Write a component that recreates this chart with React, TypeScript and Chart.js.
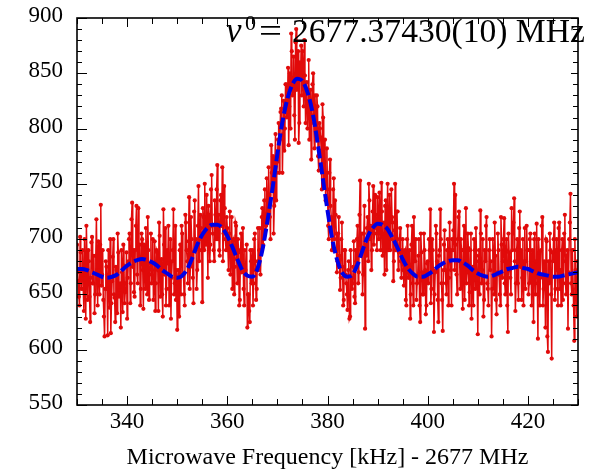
import React, { useEffect, useRef } from "react";
import { Chart, registerables } from "chart.js";

Chart.register(...registerables);

// Frequency grid (kHz above 2677 MHz)
const FREQ_START = 330;
const DATA_STEP = 0.25;
const MID_OFFSET = 0.125;
const FIT_STEP = 1;

const counts: number[] = [
  // 330
  695, 662, 640, 688, 671, 655, 700, 628, 679, 690, 648, 665, 702, 660, 633, 685, 672, 698, 650, 731,
  // 335
  668, 645, 612, 680, 655, 690, 638, 615, 662, 700, 647, 675, 633, 688, 654, 620, 670, 695, 642, 660,
  // 340
  628, 680, 705, 660, 733, 690, 648, 712, 668, 728, 695, 655, 700, 637, 685, 710, 650, 690, 668, 705,
  // 345
  672, 645, 698, 660, 688, 635, 703, 675, 650, 727, 668, 640, 690, 712, 655, 628, 680, 727, 660, 645,
  // 350
  618, 672, 690, 650, 705, 668, 640, 715, 680, 698, 655, 720, 688, 642, 735, 700, 672, 748, 690, 710,
  // 355
  643, 720, 750, 695, 708, 730, 680, 745, 712, 690, 735, 700, 767, 722, 685, 740, 765, 705, 728, 690,
  // 360
  710, 672, 725, 688, 655, 700, 675, 712, 660, 690, 645, 705, 678, 655, 690, 668, 620, 650, 625, 680,
  // 365
  690, 660, 705, 645, 680, 672, 710, 690, 728, 700, 745, 712, 735, 765, 720, 785, 750, 705, 770, 735,
  // 370
  770, 805, 790, 818, 760, 825, 800, 840, 815, 785, 850, 886, 830, 865, 790, 890, 845, 787, 860, 875,
  // 375
  870, 820, 848, 835, 800, 862, 815, 772, 840, 805, 830, 790, 820, 762, 800, 780, 822, 750, 790, 760,
  // 380
  745, 700, 772, 720, 690, 755, 735, 705, 680, 720, 654, 700, 675, 645, 690, 660, 636, 680, 630, 665,
  // 385
  660, 698, 642, 680, 712, 670, 753, 690, 650, 705, 619, 685, 720, 750, 700, 672, 725, 695, 740, 710,
  // 390
  738, 700, 720, 751, 685, 715, 730, 672, 750, 705, 690, 745, 715, 680, 750, 700, 725, 688, 710, 665,
  // 395
  700, 658, 690, 640, 712, 675, 628, 695, 660, 720, 680, 645, 667, 700, 625, 688, 650, 705, 672, 640,
  // 400
  680, 700, 727, 655, 690, 616, 670, 705, 645, 685, 727, 660, 617, 695, 672, 650, 700, 665, 690, 640,
  // 405
  690, 750, 740, 668, 700, 725, 655, 690, 637, 712, 680, 660, 705, 640, 690, 628, 675, 700, 655, 685,
  // 410
  614, 690, 726, 660, 700, 645, 680, 720, 655, 690, 672, 612, 700, 650, 685, 632, 705, 668, 640, 695,
  // 415
  680, 719, 650, 700, 616, 688, 665, 728, 705, 737, 635, 690, 660, 710, 675, 645, 700, 680, 655, 712,
  // 420
  690, 660, 705, 640, 678, 700, 650, 714, 610, 688, 665, 712, 640, 680, 620, 698, 598, 660, 690, 592,
  // 425
  680, 715, 655, 700, 640, 715, 672, 690, 645, 705, 660, 685, 619, 700, 741, 650, 690, 608, 672, 630,
  // 430
  656,
];

// Measured counts (red) at the in-between frequencies, 330.125 to 429.875 kHz
const countsMid: number[] = [
  // 330.125
  670, 648, 702, 655, 690, 635, 668, 712, 645, 680, 625, 697, 660, 685, 650, 718, 640, 672, 695, 658,
  // 335.125
  690, 630, 655, 675, 613, 668, 700, 642, 684, 650, 625, 672, 705, 648, 660, 690, 634, 676, 652, 688,
  // 340.125
  665, 700, 642, 718, 675, 652, 690, 730, 660, 684, 640, 705, 672, 695, 655, 688, 720, 645, 678, 660,
  // 345.125
  700, 660, 635, 690, 672, 715, 648, 682, 630, 695, 710, 655, 678, 640, 700, 665, 690, 650, 712, 672,
  // 350.125
  660, 630, 695, 712, 668, 650, 722, 690, 660, 738, 675, 700, 665, 725, 690, 655, 712, 680, 722, 700,
  // 355.125
  728, 690, 700, 740, 665, 722, 695, 758, 705, 680, 722, 745, 700, 690, 735, 712, 680, 748, 700, 720,
  // 360.125
  690, 705, 668, 720, 698, 650, 715, 682, 700, 640, 688, 670, 710, 640, 672, 695, 650, 635, 690, 660,
  // 365.125
  640, 700, 672, 655, 710, 690, 668, 720, 695, 735, 708, 755, 725, 740, 700, 760, 775, 730, 795, 760,
  // 370.125
  790, 760, 815, 830, 795, 780, 840, 810, 855, 820, 800, 870, 840, 812, 878, 835, 870, 805, 848, 830,
  // 375.125
  850, 880, 805, 842, 825, 790, 835, 812, 850, 782, 810, 830, 775, 805, 792, 745, 810, 770, 735, 782,
  // 380.125
  712, 760, 730, 690, 745, 700, 722, 670, 705, 685, 665, 715, 640, 690, 668, 650, 672, 628, 690, 655,
  // 385.125
  675, 648, 690, 700, 660, 722, 685, 705, 668, 730, 695, 710, 680, 735, 712, 690, 748, 705, 722, 690,
  // 390.125
  715, 742, 690, 725, 705, 668, 735, 712, 690, 740, 700, 720, 662, 708, 690, 725, 672, 700, 680, 690,
  // 395.125
  672, 688, 645, 700, 665, 690, 650, 712, 640, 680, 700, 660, 685, 640, 705, 670, 650, 690, 632, 678,
  // 400.125
  660, 690, 642, 700, 672, 650, 712, 680, 625, 690, 700, 645, 672, 708, 660, 690, 640, 715, 672, 700,
  // 405.125
  708, 672, 695, 650, 720, 680, 700, 660, 690, 645, 728, 670, 692, 652, 705, 672, 640, 690, 710, 660,
  // 410.125
  680, 650, 705, 672, 630, 690, 712, 660, 640, 700, 680, 655, 690, 715, 645, 670, 690, 650, 720, 665,
  // 415.125
  700, 660, 690, 640, 705, 672, 650, 690, 715, 680, 660, 700, 645, 725, 690, 665, 640, 710, 680, 690,
  // 420.125
  650, 700, 672, 690, 625, 705, 680, 660, 700, 640, 690, 720, 655, 672, 700, 612, 680, 705, 650, 688,
  // 425.125
  700, 645, 690, 672, 710, 655, 640, 700, 680, 722, 650, 690, 670, 715, 660, 690, 640, 700, 655, 680,
];

// Fitted line shape (blue dashed), 1 kHz spacing from 330 to 430
const fitCounts: number[] = [
  673, 673, 672, 670, 668, 666, 665, 666, 668, 672,
  676, 679, 681, 682, 681, 679, 676, 672, 669, 666,
  665, 667, 673, 683, 695, 704, 710, 713, 713, 710,
  703, 693, 682, 672, 667, 666, 673, 690, 716, 745,
  777, 806, 827, 840, 845, 843, 833, 815, 788, 757,
  726, 699, 680, 669, 666, 668, 677, 690, 702, 710,
  714, 713, 709, 701, 692, 682, 674, 669, 666, 666,
  668, 671, 675, 678, 680, 681, 681, 679, 676, 672,
  669, 667, 666, 667, 669, 671, 673, 674, 675, 674,
  673, 671, 669, 668, 667, 666, 666, 667, 668, 669,
  670,
];

const X_MIN = 330;
const X_MAX = 430;
const Y_MIN = 550;
const Y_MAX = 900;
const X_TICKS = [340, 360, 380, 400, 420];
const Y_TICKS = [550, 600, 650, 700, 750, 800, 850, 900];
const X_MINOR = 5;
const Y_MINOR = 10;
const X_TITLE = "Microwave Frequency [kHz] - 2677 MHz";
const ANNOT_SYMBOL = "\u03bd";
const ANNOT_SUP = "0";
const ANNOT_MAIN = "2677.37430(10) MHz";

const SERIF = '"Liberation Serif", "DejaVu Serif", serif';

const framePlugin = {
  id: "frameTicks",
  afterDraw(chart: any) {
    const { ctx, chartArea: a, scales } = chart;
    const x = scales.x;
    const y = scales.y;
    ctx.save();
    ctx.strokeStyle = "#000";
    ctx.lineWidth = 1;
    ctx.beginPath();
    for (let v = X_MIN; v <= X_MAX + 1e-9; v += X_MINOR) {
      const px = Math.round(x.getPixelForValue(v)) + 0.5;
      const len = X_TICKS.includes(v) ? 9 : 6;
      ctx.moveTo(px, a.bottom);
      ctx.lineTo(px, a.bottom - len);
      ctx.moveTo(px, a.top);
      ctx.lineTo(px, a.top + len);
    }
    for (let v = Y_MIN; v <= Y_MAX + 1e-9; v += Y_MINOR) {
      const py = Math.round(y.getPixelForValue(v)) + 0.5;
      const major = Y_TICKS.includes(v);
      ctx.moveTo(a.left, py);
      ctx.lineTo(a.left + (major ? 10 : 5), py);
      ctx.moveTo(a.right, py);
      ctx.lineTo(a.right - (major ? 7 : 5), py);
    }
    ctx.stroke();
    ctx.lineWidth = 1.6;
    ctx.strokeRect(a.left, a.top, a.right - a.left, a.bottom - a.top);

    // annotation  ν^0 = 2677.37430(10) MHz
    ctx.fillStyle = "#000";
    ctx.textBaseline = "alphabetic";
    ctx.textAlign = "left";
    const base = 42;
    ctx.font = `italic 35px ${SERIF}`;
    ctx.fillText(ANNOT_SYMBOL, 226, base);
    ctx.font = `22px ${SERIF}`;
    ctx.fillText(ANNOT_SUP, 245, base - 12);
    ctx.font = `34px ${SERIF}`;
    ctx.save();
    ctx.translate(259, base);
    ctx.scale(1.2, 1);
    ctx.fillText("=", 0, 0);
    ctx.restore();
    ctx.font = `33px ${SERIF}`;
    const w = ctx.measureText(ANNOT_MAIN).width;
    const size = (33 * 293) / w;
    ctx.font = `${size.toFixed(2)}px ${SERIF}`;
    ctx.fillText(ANNOT_MAIN, 292, base);
    ctx.restore();
  },
};

export default function App() {
  const ref = useRef<HTMLCanvasElement | null>(null);

  useEffect(() => {
    document.body.style.margin = "0";
    const canvas = ref.current;
    if (!canvas) return;
    const dataPts: { x: number; y: number }[] = [];
    counts.forEach((v, i) => {
      dataPts.push({ x: FREQ_START + i * DATA_STEP, y: v });
      if (i < countsMid.length) {
        dataPts.push({ x: FREQ_START + i * DATA_STEP + MID_OFFSET, y: countsMid[i] });
      }
    });
    const fitPts = fitCounts.map((v, i) => ({ x: FREQ_START + i * FIT_STEP, y: v }));
    const chart = new Chart(canvas, {
      type: "line",
      data: {
        datasets: [
          {
            data: dataPts,
            borderColor: "rgb(225,10,10)",
            backgroundColor: "rgb(225,10,10)",
            borderWidth: 1.5,
            pointRadius: 2.1,
            pointBorderWidth: 0,
            pointBackgroundColor: "rgb(225,10,10)",
            tension: 0,
            order: 2,
          },
          {
            data: fitPts,
            borderColor: "rgb(0,0,230)",
            borderWidth: 4,
            borderDash: [12, 4],
            pointRadius: 0,
            cubicInterpolationMode: "monotone",
            order: 1,
          },
        ],
      },
      options: {
        responsive: false,
        animation: false,
        layout: { padding: { top: 18, right: 20, left: 0, bottom: 0 } },
        plugins: {
          legend: { display: false },
          tooltip: { enabled: false },
        },
        scales: {
          x: {
            type: "linear",
            min: X_MIN,
            max: X_MAX,
            afterBuildTicks: (s: any) => {
              s.ticks = X_TICKS.map((v) => ({ value: v }));
            },
            afterFit: (s: any) => {
              s.height = 67;
              s.paddingLeft = 0;
              s.paddingRight = 0;
            },
            grid: { display: false, drawTicks: false },
            border: { display: false },
            ticks: {
              color: "#000",
              font: { family: SERIF, size: 23 },
              padding: 3,
              maxRotation: 0,
            },
            title: {
              display: true,
              text: X_TITLE,
              color: "#000",
              font: { family: SERIF, size: 24 },
              padding: { top: 0, bottom: 0 },
            },
          },
          y: {
            min: Y_MIN,
            max: Y_MAX,
            afterBuildTicks: (s: any) => {
              s.ticks = Y_TICKS.map((v) => ({ value: v }));
            },
            afterFit: (s: any) => {
              s.width = 77;
              s.paddingTop = 0;
              s.paddingBottom = 0;
            },
            grid: { display: false, drawTicks: false },
            border: { display: false },
            ticks: {
              color: "#000",
              font: { family: SERIF, size: 23 },
              padding: 14,
              labelOffset: -2,
            },
          },
        },
      },
      plugins: [framePlugin],
    });
    return () => chart.destroy();
  }, []);

  return <canvas ref={ref} width={598} height={472} style={{ display: "block" }} />;
}
